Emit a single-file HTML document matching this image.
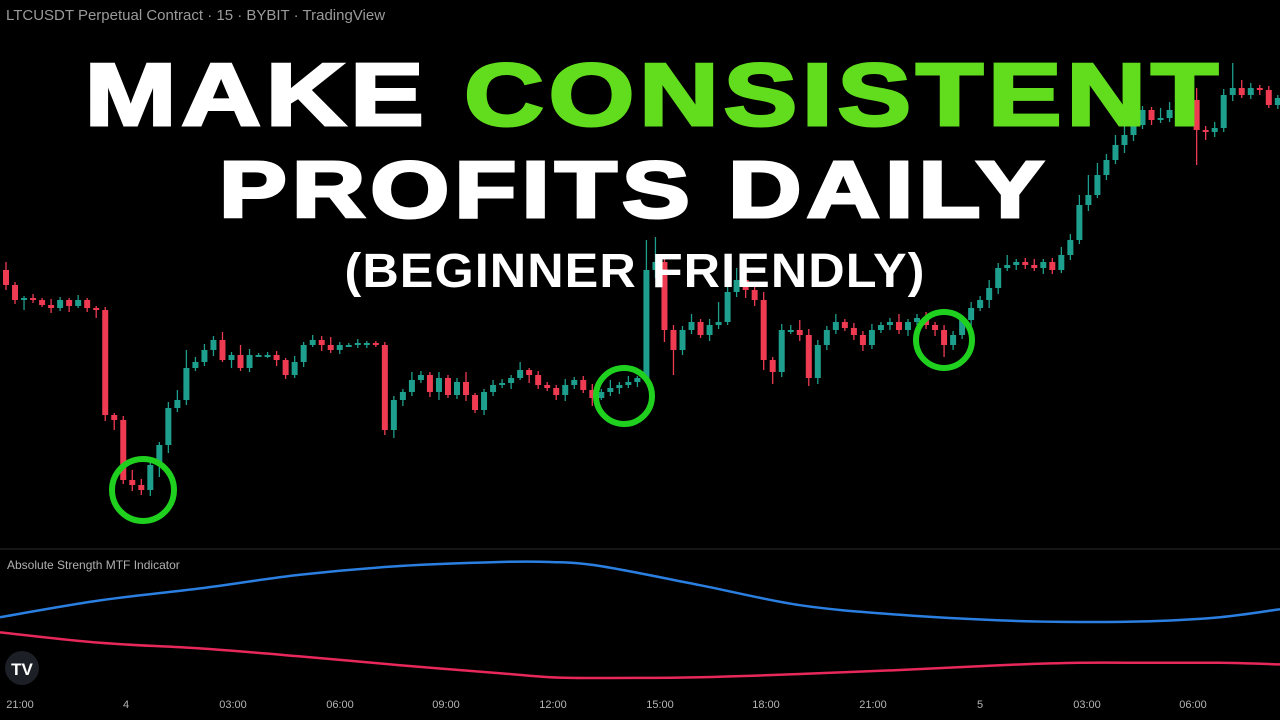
<!DOCTYPE html>
<html><head><meta charset="utf-8"><style>
body{margin:0;background:#000;width:1280px;height:720px;overflow:hidden;font-family:"Liberation Sans",sans-serif}
svg{position:absolute;left:0;top:0}
.t{position:absolute;left:0;width:1280px;text-align:center;font-weight:900;white-space:nowrap}
</style></head><body>
<svg id="chart" width="1280" height="720"></svg>
<div style="position:absolute;left:6px;top:7px;color:#9a9a9a;font-size:15px">LTCUSDT Perpetual Contract · 15 · BYBIT · TradingView</div>
<div style="position:absolute;left:7px;top:558px;color:#b0b0b0;font-size:12px">Absolute Strength MTF Indicator</div>
<div class="t" style="top:44px;font-size:88px;letter-spacing:4px;transform:scaleX(1.25);color:#fff;left:14px;-webkit-text-stroke:3px #fff">MAKE <span style="color:#62dd1e;-webkit-text-stroke:3px #62dd1e">CONSISTENT</span></div>
<div class="t" style="top:144px;font-size:80px;letter-spacing:4px;transform:scaleX(1.27);color:#fff;left:-6px;-webkit-text-stroke:3px #fff">PROFITS DAILY</div>
<div class="t" style="top:244px;font-size:48px;color:#fff;letter-spacing:1px;left:-5px;transform:scaleX(1.05)">(BEGINNER FRIENDLY)</div>
<script>
const closes=[275,260,262,260,255,252,260,254,260,252,250,145,140,80,75,70,95,115,152,160,192,198,210,220,200,205,192,205,205,205,200,185,198,215,220,215,210,215,215,217,217,215,130,160,168,180,185,168,182,165,178,165,150,168,175,177,182,190,185,175,172,165,175,180,170,162,168,172,175,178,182,290,298,230,210,230,238,225,235,238,268,280,270,260,200,188,230,230,225,182,215,230,238,232,225,215,230,235,238,230,238,242,235,230,215,225,240,252,260,272,292,295,298,295,292,298,290,305,320,355,365,385,400,415,425,435,450,440,442,450,452,460,430,428,432,465,472,465,472,470,455,462];
const firstOpen=290;
const wickUp=[8,3,2,4,2,6,3,2,5,2,2,3,2,4,10,6,4,3,6,10,18,5,6,4,8,3,10,6,2,3,4,2,6,3,5,4,8,3,2,4,2,2,3,4,3,8,4,3,6,3,4,10,2,3,5,4,3,8,2,4,3,3,6,3,4,6,3,8,3,6,2,30,25,6,5,4,8,3,6,20,10,12,6,4,8,3,6,5,10,6,5,4,8,3,5,4,6,3,4,8,3,4,6,3,5,4,3,6,4,8,5,10,3,4,6,3,4,8,6,10,20,12,6,10,30,15,4,3,10,8,6,5,12,4,6,6,25,8,5,3,4,3];
const wickDn=[5,4,10,3,2,5,3,6,2,4,8,6,10,4,6,5,6,12,8,4,5,3,4,6,2,8,3,4,2,3,6,4,3,5,2,6,3,4,2,3,5,2,5,8,6,4,3,5,8,3,4,6,3,5,4,3,6,2,8,4,3,5,6,4,3,8,2,4,6,3,5,4,8,12,25,5,4,3,6,4,3,5,8,6,10,12,5,4,6,8,6,5,4,3,5,6,4,3,5,4,6,3,4,6,12,5,4,6,3,8,6,3,5,4,3,6,4,3,5,4,6,3,5,4,8,6,4,5,3,4,6,3,35,8,5,4,6,3,4,5,3,4];
const indX=[0,100,200,300,400,500,550,600,700,800,900,1000,1080,1150,1220,1280];
const blueVals=[81,102,117,134,145,150,150,145,121,96,84,77,75,76,81,91];
const redVals=[62,49,42,32,21,11,6,5,6,10,15,21,24,24,24,22];
const tickLabels=["21:00","4","03:00","06:00","09:00","12:00","15:00","18:00","21:00","5","03:00","06:00"];
const tickPos=[20,126,233,340,446,553,660,766,873,980,1087,1193];
const NS="http://www.w3.org/2000/svg",svg=document.getElementById('chart');
const xS=i=>6+i*9.02, yS=p=>560-p;
const yI=v=>682-v*0.8;
function mk(t,a){const e=document.createElementNS(NS,t);for(const k in a)e.setAttribute(k,a[k]);svg.appendChild(e);return e;}
let prev=firstOpen;
closes.forEach((c,i)=>{
 const o=prev,up=c>=o,col=up?'#1e9e8c':'#ee3b52';
 const hi=Math.max(o,c)+wickUp[i%wickUp.length],lo=Math.min(o,c)-wickDn[i%wickDn.length];
 const w=mk('line',{x1:xS(i),x2:xS(i),y1:yS(hi),y2:yS(lo),stroke:col,'stroke-width':1.3});
 
 
 const b=mk('rect',{x:xS(i)-3,y:yS(Math.max(o,c)),width:6,height:Math.max(2,Math.abs(c-o)),fill:col});
 
 
 prev=c;
});
[[143,490,31],[624,396,28],[944,340,28]].forEach(a=>{
 const c=mk('circle',{cx:a[0],cy:a[1],r:a[2],fill:'none',stroke:'#1fd01f','stroke-width':6});
 
 
});
const sep=mk('line',{x1:0,x2:1280,y1:549,y2:549,stroke:'#2a2a2a','stroke-width':1});


function curve(vals){
 const P=vals.map((v,i)=>[indX[i],yI(v)]);
 let d='M'+P[0][0]+','+P[0][1];
 for(let i=0;i<P.length-1;i++){
  const p0=P[Math.max(0,i-1)],p1=P[i],p2=P[i+1],p3=P[Math.min(P.length-1,i+2)];
  const c1=[p1[0]+(p2[0]-p0[0])/6,p1[1]+(p2[1]-p0[1])/6],c2=[p2[0]-(p3[0]-p1[0])/6,p2[1]-(p3[1]-p1[1])/6];
  d+=' C'+c1+' '+c2+' '+p2;
 }
 return d;
}
const bl=mk('path',{d:curve(blueVals),fill:'none',stroke:'#2a7fe0','stroke-width':2.5});


const rl=mk('path',{d:curve(redVals),fill:'none',stroke:'#e8285a','stroke-width':2.5});


tickLabels.forEach((t,i)=>{
 const e=mk('text',{x:tickPos[i],y:708,fill:'#b5b5b5','font-size':11,'text-anchor':'middle','font-family':'Liberation Sans, sans-serif'});
 e.textContent=t;
 
 
});
const lg=mk('circle',{cx:22,cy:668,r:17,fill:'#1c1f26'});


const lt=mk('text',{x:22,y:675,fill:'#fff','font-size':17,'font-weight':'bold','text-anchor':'middle','font-family':'Liberation Sans, sans-serif'});
lt.textContent='TV';


</script>
</body></html>
